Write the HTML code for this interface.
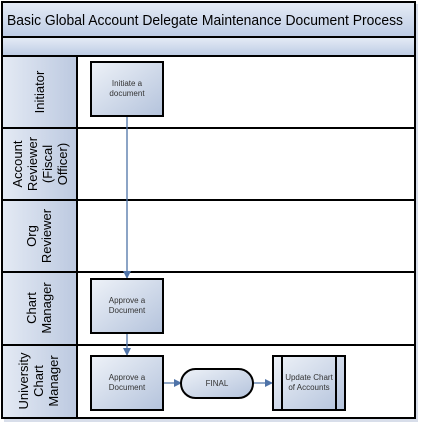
<!DOCTYPE html>
<html><head><style>
body{margin:0;width:421px;height:425px;background:#fff;position:relative;overflow:hidden;font-family:"Liberation Sans",sans-serif}
</style></head><body>
<svg width="421" height="425" xmlns="http://www.w3.org/2000/svg" style="position:absolute;left:0;top:0">
<defs>
<linearGradient id="hd" x1="0" y1="0" x2="0" y2="1"><stop offset="0" stop-color="#e6ecf6"/><stop offset="1" stop-color="#bccbe4"/></linearGradient>
<linearGradient id="lb" x1="0" y1="0" x2="1" y2="0"><stop offset="0" stop-color="#e4eaf4"/><stop offset="1" stop-color="#bcc9e0"/></linearGradient>
<linearGradient id="bx" x1="0" y1="0" x2="1" y2="1"><stop offset="0" stop-color="#eef2f8"/><stop offset="1" stop-color="#b4c3dc"/></linearGradient>
<marker id="ar" markerWidth="8" markerHeight="8" refX="7" refY="4" orient="auto" markerUnits="userSpaceOnUse"><path d="M0,0 L8,4 L0,8 z" fill="#4f73a8"/></marker>
</defs>
<rect x="4" y="4" width="414" height="418" fill="#d8deea"/>
<rect x="2" y="2" width="413" height="35" fill="url(#hd)" stroke="#000" stroke-width="2"/>
<rect x="2" y="37" width="413" height="19" fill="url(#hd)" stroke="#000" stroke-width="2"/>
<text x="7" y="25" font-size="14.5" fill="#000" textLength="396" lengthAdjust="spacingAndGlyphs">Basic Global Account Delegate Maintenance Document Process</text>
<g stroke="#000" stroke-width="2">
<rect x="2" y="56" width="75" height="72" fill="url(#lb)"/><rect x="77" y="56" width="338" height="72" fill="#fff"/>
<rect x="2" y="128" width="75" height="72" fill="url(#lb)"/><rect x="77" y="128" width="338" height="72" fill="#fff"/>
<rect x="2" y="200" width="75" height="72" fill="url(#lb)"/><rect x="77" y="200" width="338" height="72" fill="#fff"/>
<rect x="2" y="272" width="75" height="73" fill="url(#lb)"/><rect x="77" y="272" width="338" height="73" fill="#fff"/>
<rect x="2" y="345" width="75" height="73" fill="url(#lb)"/><rect x="77" y="345" width="338" height="73" fill="#fff"/>
</g>
<g font-size="13" fill="#000" text-anchor="middle">
<text transform="translate(44,92) rotate(-90)">Initiator</text>
<text transform="translate(22,164) rotate(-90)">Account</text>
<text transform="translate(37,164) rotate(-90)">Reviewer</text>
<text transform="translate(52,164) rotate(-90)">(Fiscal</text>
<text transform="translate(67,164) rotate(-90)">Officer)</text>
<text transform="translate(36,236) rotate(-90)">Org</text>
<text transform="translate(51,236) rotate(-90)">Reviewer</text>
<text transform="translate(36,308) rotate(-90)">Chart</text>
<text transform="translate(51,308) rotate(-90)">Manager</text>
<text transform="translate(28,381) rotate(-90)">University</text>
<text transform="translate(43,381) rotate(-90)">Chart</text>
<text transform="translate(58,381) rotate(-90)">Manager</text>
</g>
<g stroke="#4f73a8" stroke-width="1.3" fill="none">
<line x1="127" y1="116" x2="127" y2="278" marker-end="url(#ar)"/>
<line x1="127" y1="333" x2="127" y2="355" marker-end="url(#ar)"/>
<line x1="163" y1="383" x2="181" y2="383" marker-end="url(#ar)"/>
<line x1="253" y1="383" x2="272" y2="383" marker-end="url(#ar)"/>
</g>
<g stroke="#000" stroke-width="2" fill="url(#bx)">
<rect x="91" y="62" width="72" height="54"/>
<rect x="91" y="279" width="72" height="54"/>
<rect x="91" y="356" width="72" height="54"/>
<rect x="181" y="369" width="72" height="29" rx="14.5"/>
<rect x="273" y="356" width="72" height="54"/>
<line x1="282" y1="356" x2="282" y2="410"/>
<line x1="336" y1="356" x2="336" y2="410"/>
</g>
<g font-size="8" fill="#333" text-anchor="middle">
<text x="127" y="86">Initiate a</text><text x="127" y="96">document</text>
<text x="127" y="303">Approve a</text><text x="127" y="313">Document</text>
<text x="127" y="380">Approve a</text><text x="127" y="390">Document</text>
<text x="217" y="386">FINAL</text>
<text x="309" y="380">Update Chart</text><text x="309" y="390">of Accounts</text>
</g>
</svg>
</body></html>
